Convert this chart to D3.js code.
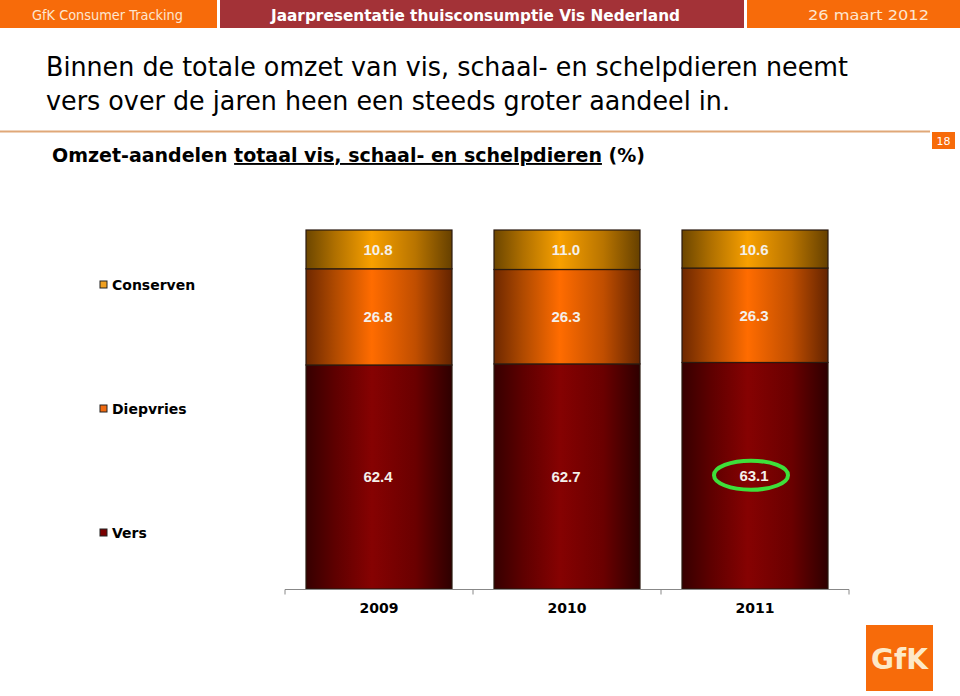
<!DOCTYPE html>
<html><head><meta charset="utf-8">
<script src="https://cdn.jsdelivr.net/npm/d3@7/dist/d3.min.js"></script>
<style>body{margin:0;background:#fff}svg{display:block}</style>
</head><body>
<script>
const years = ["2009", "2010", "2011"];
const seriesNames = ["Vers", "Diepvries", "Conserven"];
const vers = [62.4, 62.7, 63.1];
const diepvries = [26.8, 26.3, 26.3];
const conserven = [10.8, 11.0, 10.6];
const legendOrder = ["Conserven", "Diepvries", "Vers"];

const W = 960, H = 696;
const svg = d3.select("body").append("svg").attr("width", W).attr("height", H);
const defs = svg.append("defs");

const grads = {
  Vers: ["#360000", "#5e0000", "#860202", "#6a0000", "#2e0000"],
  Diepvries: ["#6e2800", "#b04a00", "#ff6c00", "#c04e00", "#642400"],
  Conserven: ["#6c4600", "#b07000", "#f8a000", "#b87400", "#664000"]
};
const swatch = { Vers: "#7a0000", Diepvries: "#f06a10", Conserven: "#f0a020" };
Object.entries(grads).forEach(([k, cols]) => {
  const g = defs.append("linearGradient").attr("id", "g" + k).attr("x1", 0).attr("x2", 1).attr("y1", 0).attr("y2", 0);
  [0, 0.2, 0.45, 0.75, 1].forEach((o, i) => g.append("stop").attr("offset", o).attr("stop-color", cols[i]));
});

// header
const hdr = svg.append("g");
hdr.append("rect").attr("x", 0).attr("y", 0).attr("width", 217).attr("height", 28).attr("fill", "#f76b0a");
hdr.append("rect").attr("x", 220).attr("y", 0).attr("width", 524).attr("height", 28).attr("fill", "#a33237");
hdr.append("rect").attr("x", 747).attr("y", 0).attr("width", 213).attr("height", 28).attr("fill", "#f76b0a");
hdr.append("text").attr("x", 32).attr("y", 20).attr("textLength", 151).attr("lengthAdjust", "spacingAndGlyphs")
  .attr("font-family", "DejaVu Sans").attr("font-size", 14).attr("fill", "#fde6cf").text("GfK Consumer Tracking");
hdr.append("text").attr("x", 271).attr("y", 21).attr("textLength", 409).attr("lengthAdjust", "spacingAndGlyphs")
  .attr("font-family", "DejaVu Sans").attr("font-weight", "bold").attr("font-size", 16).attr("fill", "#fff").text("Jaarpresentatie thuisconsumptie Vis Nederland");
hdr.append("text").attr("x", 808).attr("y", 20).attr("textLength", 121).attr("lengthAdjust", "spacingAndGlyphs")
  .attr("font-family", "DejaVu Sans").attr("font-size", 14).attr("fill", "#fde6cf").text("26 maart 2012");

// title
svg.append("text").attr("x", 46).attr("y", 76).attr("textLength", 802).attr("lengthAdjust", "spacingAndGlyphs")
  .attr("font-family", "DejaVu Sans").attr("font-size", 27).attr("fill", "#000")
  .text("Binnen de totale omzet van vis, schaal- en schelpdieren neemt");
svg.append("text").attr("x", 46).attr("y", 110).attr("textLength", 684).attr("lengthAdjust", "spacingAndGlyphs")
  .attr("font-family", "DejaVu Sans").attr("font-size", 27).attr("fill", "#000")
  .text("vers over de jaren heen een steeds groter aandeel in.");

svg.append("line").attr("x1", 0).attr("x2", 930).attr("y1", 131.5).attr("y2", 131.5).attr("stroke", "#e0a878").attr("stroke-width", 2);
svg.append("rect").attr("x", 932).attr("y", 132).attr("width", 23).attr("height", 17).attr("fill", "#f76b0a");
svg.append("text").attr("x", 943.5).attr("y", 145).attr("text-anchor", "middle").attr("font-family", "DejaVu Sans")
  .attr("font-size", 11).attr("fill", "#fff").text("18");

const sub = svg.append("text").attr("x", 52).attr("y", 162).attr("textLength", 593).attr("lengthAdjust", "spacingAndGlyphs")
  .attr("font-family", "DejaVu Sans").attr("font-weight", "bold").attr("font-size", 19).attr("fill", "#000");
sub.append("tspan").text("Omzet-aandelen ");
sub.append("tspan").attr("text-decoration", "underline").text("totaal vis, schaal- en schelpdieren");
sub.append("tspan").text(" (%)");

// chart
const x = d3.scaleBand().domain(years).range([285, 849]).paddingInner(0.2234).paddingOuter(0.1117);
const y = d3.scaleLinear().domain([0, 100]).range([589, 230]);

const rows = years.map((yr, i) => ({ year: yr, Vers: vers[i], Diepvries: diepvries[i], Conserven: conserven[i] }));
const stacked = d3.stack().keys(seriesNames)(rows);

const gBars = svg.append("g");
stacked.forEach(layer => {
  const key = layer.key;
  const g = gBars.append("g");
  g.selectAll("rect").data(layer).join("rect")
    .attr("x", d => x(d.data.year)).attr("width", x.bandwidth())
    .attr("y", d => y(d[1])).attr("height", d => y(d[0]) - y(d[1]))
    .attr("fill", `url(#g${key})`).attr("stroke", "#2a1a10").attr("stroke-width", 1.2);
  g.selectAll("text").data(layer).join("text")
    .attr("x", d => x(d.data.year) + x.bandwidth() / 2 - 1)
    .attr("y", d => (y(d[0]) + y(d[1])) / 2 + 5.5)
    .attr("text-anchor", "middle").attr("font-family", "Liberation Sans, Arial").attr("font-weight", "bold")
    .attr("font-size", 15).attr("fill", "#f4f0ea").text(d => (d[1] - d[0]).toFixed(1));
});

// highlight ellipse on last Vers
const lastV = stacked[0][2];
svg.append("ellipse").attr("cx", x("2011") + x.bandwidth() / 2 - 4).attr("cy", (y(lastV[0]) + y(lastV[1])) / 2 - 0.5)
  .attr("rx", 37).attr("ry", 14.5).attr("fill", "none").attr("stroke", "#3ee03a").attr("stroke-width", 4);

// axis
const axisG = svg.append("g").attr("transform", "translate(0,589.5)");
axisG.append("line").attr("x1", 285).attr("x2", 849).attr("stroke", "#888").attr("stroke-width", 1);
const tickXs = years.map(yr => x(yr) - x.step() * x.paddingInner() / 2).concat([849]);
axisG.selectAll("line.t").data(tickXs).join("line").attr("class", "t")
  .attr("x1", d => d).attr("x2", d => d).attr("y1", 0).attr("y2", 5).attr("stroke", "#888");
axisG.selectAll("text").data(years).join("text")
  .attr("x", d => x(d) + x.bandwidth() / 2).attr("y", 23).attr("text-anchor", "middle")
  .attr("font-family", "DejaVu Sans").attr("font-weight", "bold").attr("font-size", 14).attr("fill", "#000").text(d => d);

// legend
const leg = svg.append("g");
legendOrder.forEach((k, i) => {
  const yy = 285 + i * 124;
  leg.append("rect").attr("x", 100).attr("y", yy - 4).attr("width", 7).attr("height", 7)
    .attr("fill", swatch[k]).attr("stroke", "#222").attr("stroke-width", 1);
  leg.append("text").attr("x", 112).attr("y", yy + 5).attr("font-family", "DejaVu Sans").attr("font-weight", "bold")
    .attr("font-size", 14).attr("fill", "#000").text(k);
});

// logo
svg.append("rect").attr("x", 866).attr("y", 625).attr("width", 67).attr("height", 66).attr("fill", "#f76b0a");
svg.append("text").attr("x", 899.5).attr("y", 669).attr("text-anchor", "middle").attr("font-family", "DejaVu Sans")
  .attr("font-weight", "bold").attr("font-size", 28).attr("fill", "#fde9c8").text("GfK");
</script>
</body></html>
